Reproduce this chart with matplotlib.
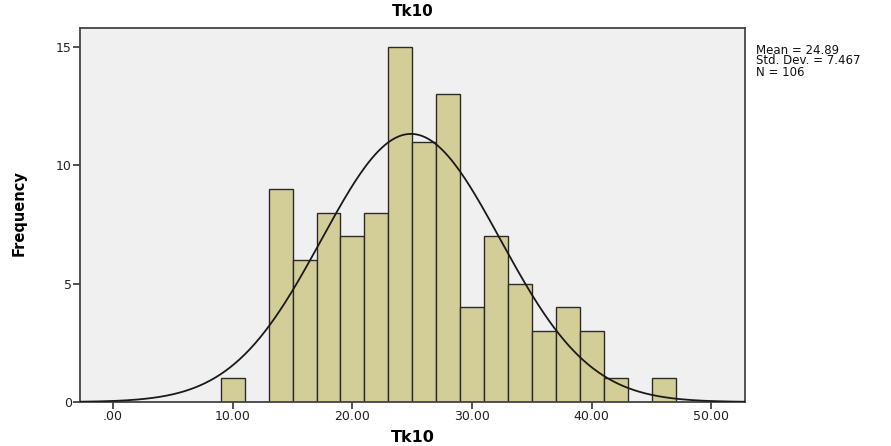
import numpy as np
import matplotlib
matplotlib.use('Agg')
import matplotlib.pyplot as plt

plt.rcParams['font.family'] = ['DejaVu Sans']

# histogram bins (width 2) and counts
bin_edges = [9, 11, 13, 15, 17, 19, 21, 23, 25, 27, 29, 31, 33, 35, 37, 39, 41, 43, 45, 47]
counts = [1, 0, 9, 6, 8, 7, 8, 15, 11, 13, 4, 7, 5, 3, 4, 3, 1, 0, 1]
mean_val = 24.89
sd_val = 7.467
n_val = 106

xticks = [0, 10, 20, 30, 40, 50]
xtick_labels = ['.00', '10.00', '20.00', '30.00', '40.00', '50.00']
yticks = [0, 5, 10, 15]

fig = plt.figure(figsize=(8.91, 4.46), dpi=100)
ax = fig.add_axes([80/891, 1-402/446, (745-80)/891, (402-28)/446])
ax.set_facecolor('#f0f0f0')

lefts = np.array(bin_edges[:-1])
widths = np.diff(bin_edges)
ax.bar(lefts, counts, width=widths, align='edge', color='#d3ce97',
       edgecolor='#2b2b2b', linewidth=1.0, zorder=2)

# normal curve scaled to counts
xlim = (-2.76, 52.8)
xs = np.linspace(xlim[0], xlim[1], 400)
bw = widths[0]
ys = n_val * bw / (sd_val * np.sqrt(2 * np.pi)) * np.exp(-0.5 * ((xs - mean_val) / sd_val) ** 2)
ax.plot(xs, ys, color='#1a1a1a', linewidth=1.3, zorder=3)

ax.set_xlim(*xlim)
ax.set_ylim(0, 15.8)
ax.set_xticks(xticks)
ax.set_xticklabels(xtick_labels)
ax.set_yticks(yticks)
ax.tick_params(direction='out', length=5, width=1.2, color='#333333',
               labelsize=9, labelcolor='#222222', pad=1)
for s in ax.spines.values():
    s.set_color('#444444')
    s.set_linewidth(1.3)

ax.set_title('Tk10', fontsize=11, fontweight='bold', va='center', y=1.043, pad=0)
ax.set_xlabel('Tk10', fontsize=11.5, fontweight='bold', va='center')
ax.xaxis.set_label_coords(0.5, -0.094)
ax.set_ylabel('Frequency', fontsize=10.5, fontweight='bold', va='center')
ax.yaxis.set_label_coords(-0.092, 0.505)

fig.text(756/891, 1-61/446, 'Mean = %.2f\nStd. Dev. = %.3f\nN = %d' % (mean_val, sd_val, n_val),
         fontsize=8.5, va='center', ha='left', linespacing=0.8, color='#111111')

fig.savefig('out.png', dpi=100)
